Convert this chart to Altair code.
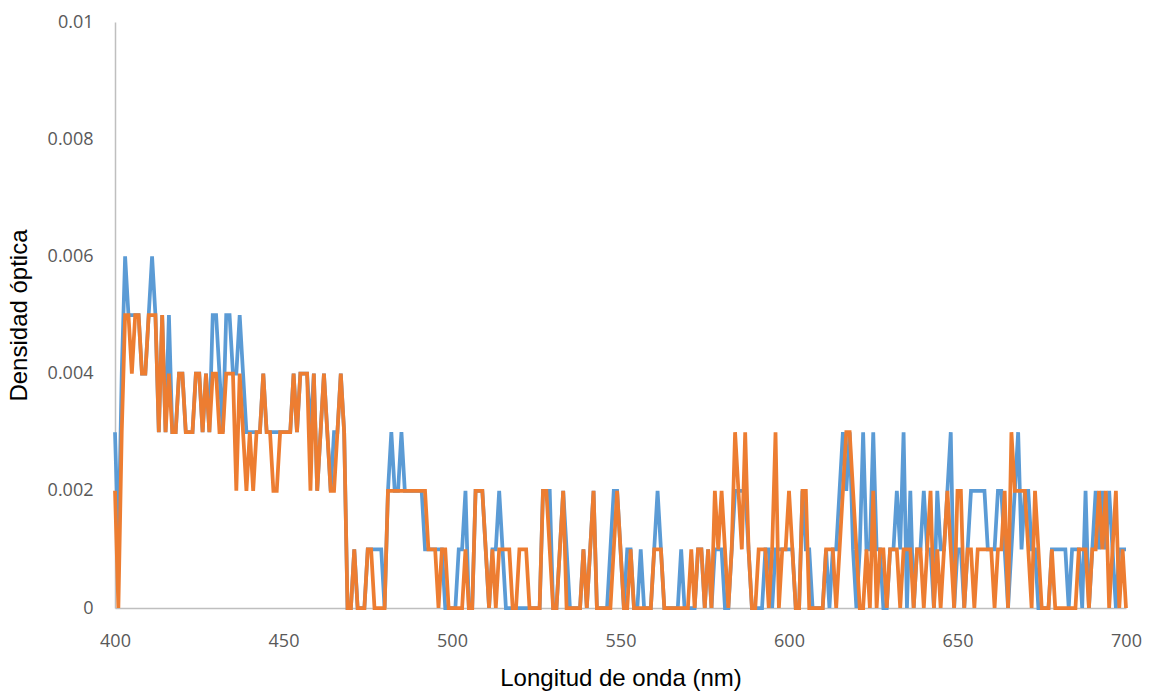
import altair as alt
import pandas as pd

# wavelengths 400..700 nm, 1 nm step
wavelength = list(range(400, 701))

# optical density in thousandths (x 0.001)
serie_azul = [
    3, 1, 4, 6, 5, 5, 5, 5, 4, 4,   # 400-409
    5, 6, 5, 3, 5, 3, 5, 3, 3, 4,   # 410-419
    4, 3, 3, 3, 4, 4, 3, 4, 3, 5,   # 420-429
    5, 4, 3, 5, 5, 4, 4, 5, 4, 3,   # 430-439
    3, 3, 3, 3, 4, 3, 3, 3, 3, 3,   # 440-449
    3, 3, 3, 4, 3, 4, 4, 4, 3, 4,   # 450-459
    2, 3, 4, 3, 2, 3, 3, 4, 3, 0,   # 460-469
    0, 1, 0, 0, 0, 1, 1, 1, 1, 1,   # 470-479
    0, 2, 3, 2, 2, 3, 2, 2, 2, 2,   # 480-489
    2, 2, 1, 1, 1, 1, 1, 1, 0, 0,   # 490-499
    0, 0, 1, 1, 2, 0, 0, 2, 2, 2,   # 500-509
    1, 0, 1, 1, 2, 1, 0, 0, 0, 0,   # 510-519
    0, 0, 0, 0, 0, 0, 0, 2, 2, 2,   # 520-529
    0, 0, 1, 2, 1, 0, 0, 0, 0, 1,   # 530-539
    0, 1, 2, 0, 0, 0, 0, 1, 2, 2,   # 540-549
    1, 0, 1, 1, 0, 0, 1, 0, 0, 0,   # 550-559
    1, 2, 1, 0, 0, 0, 0, 0, 1, 0,   # 560-569
    0, 0, 0, 1, 1, 0, 1, 0, 1, 1,   # 570-579
    1, 0, 0, 1, 2, 2, 2, 2, 1, 0,   # 580-589
    0, 0, 0, 1, 1, 0, 1, 1, 1, 1,   # 590-599
    1, 1, 0, 0, 2, 1, 1, 0, 0, 0,   # 600-609
    0, 1, 0, 1, 1, 2, 3, 2, 3, 1,   # 610-619
    0, 1, 3, 1, 1, 3, 1, 1, 0, 0,   # 620-629
    1, 1, 2, 1, 3, 0, 2, 0, 1, 1,   # 630-639
    2, 1, 1, 0, 2, 1, 1, 2, 3, 0,   # 640-649
    1, 1, 0, 1, 2, 2, 2, 2, 2, 1,   # 650-659
    1, 1, 2, 2, 1, 0, 1, 2, 3, 1,   # 660-669
    2, 2, 1, 1, 0, 0, 0, 0, 1, 1,   # 670-679
    1, 1, 1, 0, 1, 1, 1, 0, 2, 0,   # 680-689
    1, 2, 1, 2, 1, 2, 1, 0, 1, 1,   # 690-699
    1,                              # 700
]

serie_naranja = [
    2, 0, 3, 5, 5, 4, 5, 5, 4, 4,   # 400-409
    5, 5, 5, 3, 5, 3, 4, 3, 3, 4,   # 410-419
    4, 3, 3, 3, 4, 4, 3, 4, 3, 4,   # 420-429
    4, 3, 3, 4, 4, 4, 2, 4, 3, 2,   # 430-439
    3, 2, 3, 3, 4, 3, 3, 2, 2, 3,   # 440-449
    3, 3, 3, 4, 3, 4, 4, 4, 2, 4,   # 450-459
    2, 3, 4, 3, 2, 2, 3, 4, 3, 0,   # 460-469
    0, 1, 0, 0, 0, 1, 1, 0, 0, 0,   # 470-479
    0, 2, 2, 2, 2, 2, 2, 2, 2, 2,   # 480-489
    2, 2, 2, 1, 1, 1, 0, 1, 1, 0,   # 490-499
    0, 0, 0, 0, 1, 0, 0, 2, 2, 2,   # 500-509
    1, 0, 1, 0, 1, 1, 1, 1, 0, 0,   # 510-519
    1, 1, 1, 0, 0, 0, 0, 2, 2, 1,   # 520-529
    0, 0, 1, 2, 0, 0, 0, 0, 0, 1,   # 530-539
    0, 1, 2, 0, 0, 0, 0, 0, 1, 2,   # 540-549
    1, 0, 0, 1, 0, 0, 0, 0, 0, 0,   # 550-559
    1, 1, 1, 0, 0, 0, 0, 0, 0, 0,   # 560-569
    0, 1, 0, 1, 1, 0, 1, 0, 2, 1,   # 570-579
    2, 1, 0, 1, 3, 2, 1, 3, 1, 0,   # 580-589
    0, 1, 1, 1, 0, 1, 3, 0, 1, 1,   # 590-599
    2, 1, 0, 0, 2, 2, 0, 0, 0, 0,   # 600-609
    0, 1, 1, 1, 0, 1, 2, 3, 3, 2,   # 610-619
    1, 0, 0, 1, 0, 2, 0, 1, 1, 0,   # 620-629
    1, 1, 1, 0, 1, 1, 1, 0, 1, 1,   # 630-639
    0, 1, 2, 0, 1, 0, 1, 2, 1, 0,   # 640-649
    2, 2, 0, 1, 1, 0, 1, 1, 1, 1,   # 650-659
    1, 0, 1, 1, 2, 0, 3, 2, 2, 2,   # 660-669
    2, 1, 0, 2, 1, 0, 0, 0, 1, 0,   # 670-679
    0, 0, 0, 0, 0, 0, 1, 1, 1, 0,   # 680-689
    1, 1, 2, 1, 2, 0, 1, 2, 0, 1,   # 690-699
    0,                              # 700
]

y_ticks = [0, 0.002, 0.004, 0.006, 0.008, 0.01]
x_ticks = [400, 450, 500, 550, 600, 650, 700]

rows = []
for i, w in enumerate(wavelength):
    rows.append({"wl": w, "od": serie_azul[i] * 0.001, "serie": "A"})
for i, w in enumerate(wavelength):
    rows.append({"wl": w, "od": serie_naranja[i] * 0.001, "serie": "B"})
df = pd.DataFrame(rows)

chart = alt.Chart(df).mark_line(strokeWidth=3.75).encode(
    x=alt.X("wl:Q",
            scale=alt.Scale(domain=[400, 700], nice=False, zero=False),
            axis=alt.Axis(values=x_ticks, title="Longitud de onda (nm)", grid=False,
                          ticks=False, domainColor="#bfbfbf", domainWidth=1.5,
                          labelFlush=False,
                          labelColor="#595959", labelFontSize=18, labelFont="Open Sans",
                          labelPadding=24, titleFont="Liberation Sans", titleFontSize=24,
                          titleFontWeight="normal", titleColor="#000000", titlePadding=16)),
    y=alt.Y("od:Q",
            scale=alt.Scale(domain=[0, 0.01], nice=False),
            axis=alt.Axis(values=y_ticks, title="Densidad óptica", grid=False,
                          ticks=False, domainColor="#bfbfbf", domainWidth=1.5,
                          labelExpr="datum.value + ''", labelFlush=False,
                          labelColor="#595959", labelFontSize=18, labelFont="Open Sans",
                          labelPadding=22, titleFont="Liberation Sans", titleFontSize=24,
                          titleFontWeight="normal", titleColor="#000000", titlePadding=16)),
    color=alt.Color("serie:N", scale=alt.Scale(domain=["A", "B"], range=["#5B9BD5", "#ED7D31"]),
                    legend=None),
    order=alt.Order("wl:Q"),
).properties(
    width=1011, height=586,
    background="white",
    autosize=alt.AutoSizeParams(type="none"),
    padding={"left": 115, "top": 22, "right": 28, "bottom": 86},
).configure_view(stroke=None)

chart.save("out.html", embed_options={"renderer": "svg", "actions": False})
